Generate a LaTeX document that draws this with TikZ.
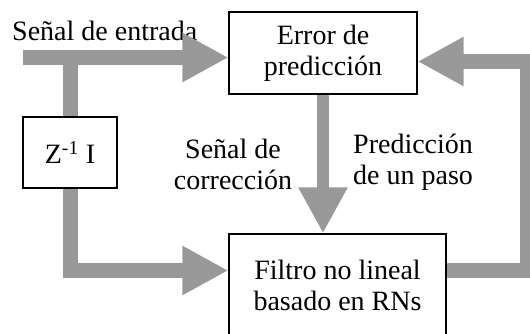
\documentclass[tikz,border=0pt]{standalone}
\usepackage{fontspec}
\setmainfont{Liberation Serif}
\usetikzlibrary{arrows.meta}
\definecolor{flowgray}{RGB}{153,153,153}

\begin{document}
\begin{tikzpicture}[x=1pt, y=-1pt,
    block/.style={rectangle, draw, line width=1.2pt, align=center, inner sep=0pt, font=\fontsize{28}{31}\selectfont},
    lbl/.style={inner sep=0pt, font=\fontsize{28}{31}\selectfont},
    flow/.style={draw=flowgray, line width=15pt, -{Triangle[length=46pt, width=46pt]}}]

\useasboundingbox (0,0) rectangle (530,333);

\node[block, minimum width=188pt, minimum height=82pt] (err) at (323,53) {Error de\\predicción};
\node[block, minimum width=217pt, minimum height=102pt] (filt) at (337.5,285) {Filtro no lineal\\basado en RNs};
\node[block, minimum width=94pt, minimum height=71pt] (zinv) at (70,152.5) {Z\textsuperscript{-1} I};

\node[lbl, anchor=base west] (lin) at (12,40) {Señal de entrada};
\node[lbl, align=center] (lcor) at (233,164) {Señal de\\corrección};
\node[lbl, align=left, anchor=west] (lpred) at (353,162.5) {Predicción\\de un paso};

\coordinate (src) at (23,57.5);
\coordinate (low) at (70,270.5);
\coordinate (fbtop) at (527,61.5);

\draw[flow] (src) -- (err.west |- src);
\draw[draw=flowgray, line width=15pt] (zinv.north) -- (zinv.north |- src);
\draw[flow] (zinv.south) -- (low) -- (filt.west |- low);
\draw[flow, line width=12pt] (err.south) -- (err.south |- filt.north);
\draw[flow] (filt.east |- low) -| (fbtop) -- (err.east |- fbtop);
\end{tikzpicture}
\end{document}
